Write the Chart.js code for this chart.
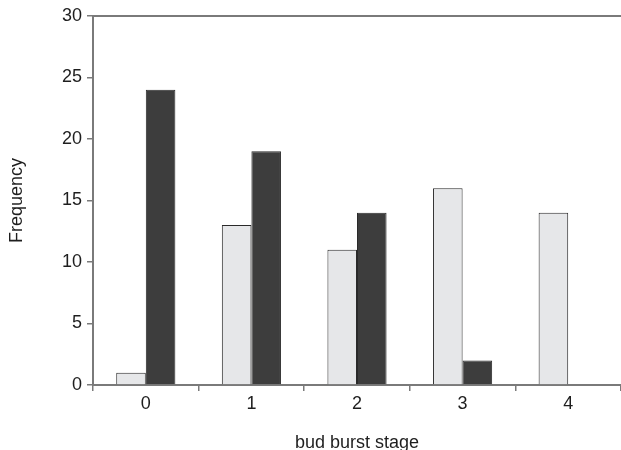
<!DOCTYPE html>
<html>
<head>
<meta charset="utf-8">
<script src="https://cdn.jsdelivr.net/npm/chart.js@4"></script>
<style>
  html, body { margin: 0; padding: 0; background: #fff; }
  #wrap { width: 621px; height: 450px; }
</style>
</head>
<body>
<div id="wrap"><canvas id="myChart"></canvas></div>
<script>
const stages = ['0', '1', '2', '3', '4'];
const lightValues = [1, 13, 11, 16, 14];
const darkValues = [24, 19, 14, 2, null];
const yTicks = [0, 5, 10, 15, 20, 25, 30];

const axisColor = '#7a7a7a';
const textColor = '#1e1e1e';

Chart.defaults.font.family = '"Liberation Sans", Arial, sans-serif';
Chart.defaults.color = textColor;

const ctx = document.getElementById('myChart').getContext('2d');

new Chart(ctx, {
    type: 'bar',
    data: {
        labels: stages,
        datasets: [
            {
                label: 'light',
                data: lightValues,
                backgroundColor: '#e6e7e9',
                borderColor: '#2a2a2a',
                borderWidth: 1,
                categoryPercentage: 0.56,
                barPercentage: 1.0
            },
            {
                label: 'dark',
                data: darkValues,
                backgroundColor: '#3d3d3d',
                borderColor: '#2a2a2a',
                borderWidth: 1,
                categoryPercentage: 0.56,
                barPercentage: 1.0
            }
        ]
    },
    options: {
        responsive: true,
        maintainAspectRatio: false,
        animation: false,
        layout: { padding: { top: 16, right: 0, bottom: 0, left: 0 } },
        plugins: {
            legend: { display: false },
            tooltip: { enabled: false }
        },
        scales: {
            x: {
                offset: true,
                grid: {
                    offset: true,
                    drawOnChartArea: false,
                    drawTicks: true,
                    tickLength: 6,
                    color: axisColor,
                    lineWidth: 1.5
                },
                border: { color: axisColor, width: 2 },
                ticks: { font: { size: 18 }, padding: 2, color: textColor },
                title: {
                    display: true,
                    text: 'bud burst stage',
                    font: { size: 18, lineHeight: 1 },
                    color: textColor,
                    padding: { top: 0, bottom: -2 }
                },
                afterFit: (axis) => { axis.height = 65; }
            },
            xTop: {
                position: 'top',
                grid: { display: false },
                ticks: { display: false },
                border: { color: axisColor, width: 2 },
                afterFit: (axis) => { axis.height = 0; }
            },
            y: {
                min: 0,
                max: 30,
                afterBuildTicks: (axis) => { axis.ticks = yTicks.map(v => ({ value: v })); },
                grid: {
                    drawOnChartArea: false,
                    drawTicks: true,
                    tickLength: 6,
                    color: axisColor,
                    lineWidth: 1.5
                },
                border: { color: axisColor, width: 2 },
                ticks: { font: { size: 18 }, padding: 5, color: textColor },
                title: {
                    display: true,
                    text: 'Frequency',
                    font: { size: 18, lineHeight: 1 },
                    color: textColor,
                    padding: { top: 8, bottom: 0 }
                },
                afterFit: (axis) => { axis.width = 93; }
            }
        }
    }
});
</script>
</body>
</html>
